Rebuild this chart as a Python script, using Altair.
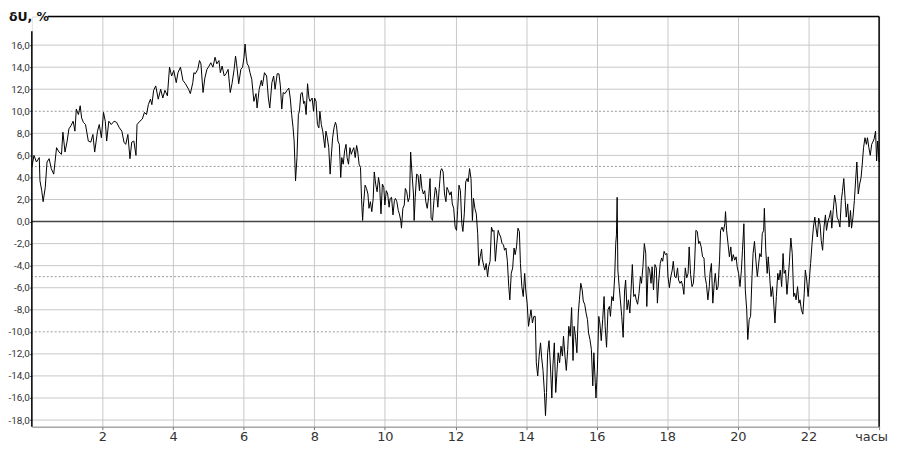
import altair as alt
import pandas as pd

# time (hours) and voltage deviation dU (%)
hours = [
    0.00, 0.06, 0.13, 0.21, 0.23, 0.28, 0.32, 0.38, 0.43, 0.49, 0.55, 0.62, 0.70, 0.77, 0.84, 0.88,
    0.94, 1.00, 1.05, 1.11, 1.17, 1.22, 1.26, 1.32, 1.37, 1.41, 1.46, 1.52, 1.60, 1.67, 1.73, 1.78,
    1.86, 1.91, 1.97, 2.03, 2.08, 2.12, 2.18, 2.25, 2.33, 2.40, 2.48, 2.55, 2.61, 2.66, 2.72, 2.78,
    2.83, 2.89, 2.95, 2.98, 3.06, 3.13, 3.19, 3.25, 3.30, 3.36, 3.40, 3.45, 3.51, 3.58, 3.65, 3.71,
    3.77, 3.84, 3.90, 3.96, 4.02, 4.09, 4.14, 4.21, 4.28, 4.35, 4.44, 4.49, 4.56,
    4.59, 4.63, 4.70, 4.75, 4.79, 4.85, 4.90, 4.96, 5.02, 5.07, 5.13, 5.19, 5.24, 5.30, 5.34, 5.39,
    5.45, 5.50, 5.56, 5.62, 5.67, 5.73, 5.77, 5.80, 5.86, 5.92, 5.97, 6.01, 6.04, 6.07, 6.10, 6.14,
    6.18, 6.23, 6.29, 6.35, 6.38, 6.44, 6.50, 6.53, 6.59, 6.65, 6.70, 6.74, 6.80, 6.85, 6.89, 6.95,
    7.00, 7.04, 7.08, 7.12, 7.17, 7.23, 7.28, 7.32, 7.36, 7.40, 7.43, 7.47, 7.51, 7.55, 7.58, 7.62,
    7.66, 7.70, 7.73, 7.77, 7.81, 7.85, 7.88, 7.94, 7.98, 8.01, 8.05, 8.09, 8.13, 8.16, 8.20, 8.24,
    8.30, 8.33, 8.37, 8.41, 8.45, 8.48, 8.52, 8.56, 8.60, 8.63, 8.67, 8.71, 8.75, 8.78, 8.82, 8.86,
    8.90, 8.93, 8.97, 9.01, 9.05, 9.08, 9.12, 9.16, 9.20, 9.23, 9.27, 9.31, 9.34,
    9.37, 9.39, 9.44, 9.48, 9.52, 9.55, 9.59, 9.63, 9.67, 9.70, 9.74, 9.78, 9.82, 9.85, 9.89, 9.93,
    9.97, 10.00, 10.04, 10.08, 10.12, 10.15, 10.19, 10.23, 10.27, 10.30, 10.34, 10.38, 10.41, 10.45,
    10.47, 10.51, 10.55, 10.58, 10.62, 10.66, 10.70, 10.73, 10.77, 10.81, 10.83, 10.86, 10.90, 10.94,
    10.98, 11.01, 11.05, 11.09, 11.13, 11.16, 11.20, 11.24, 11.28, 11.31, 11.35, 11.39, 11.43, 11.46,
    11.50, 11.54, 11.58, 11.61, 11.65, 11.69, 11.73, 11.76, 11.80, 11.84, 11.88, 11.91, 11.95, 11.99,
    12.03, 12.06, 12.10, 12.14, 12.18, 12.21, 12.25, 12.29, 12.33, 12.36, 12.40, 12.44, 12.48, 12.51,
    12.55, 12.59, 12.63, 12.66, 12.70, 12.74, 12.76, 12.80, 12.83, 12.87, 12.91, 12.94, 12.98, 13.02,
    13.06, 13.09, 13.13, 13.17, 13.21, 13.24, 13.28, 13.32, 13.36, 13.39, 13.43, 13.47, 13.51, 13.54,
    13.58, 13.62, 13.66, 13.69, 13.73, 13.77, 13.81, 13.84, 13.88, 13.92, 13.96, 13.99, 14.03, 14.07,
    14.11, 14.14, 14.18, 14.22,
    14.26, 14.29, 14.33, 14.37, 14.41, 14.44, 14.48, 14.52, 14.55, 14.58, 14.61, 14.65, 14.69, 14.73,
    14.76, 14.80, 14.84, 14.88, 14.91, 14.95, 14.99, 15.03, 15.06, 15.10, 15.14, 15.18, 15.21, 15.25,
    15.29, 15.33, 15.36, 15.40, 15.44, 15.48, 15.51, 15.55, 15.59, 15.62, 15.66, 15.70, 15.74, 15.77,
    15.81, 15.85, 15.89, 15.92, 15.96, 15.98, 16.02, 16.06, 16.09, 16.13, 16.17, 16.21, 16.24, 16.28,
    16.32, 16.36, 16.39, 16.43, 16.47, 16.51, 16.54, 16.56, 16.58, 16.60, 16.64, 16.67, 16.71, 16.75,
    16.79, 16.82, 16.86, 16.90, 16.94, 16.97, 17.01, 17.05, 17.09, 17.12, 17.16, 17.20, 17.24, 17.27,
    17.31, 17.35, 17.39, 17.42, 17.46, 17.50, 17.54, 17.57, 17.61, 17.65, 17.69, 17.72, 17.76, 17.80,
    17.84, 17.87, 17.91, 17.95, 17.99, 18.02, 18.06, 18.10, 18.14, 18.17, 18.21, 18.25, 18.29, 18.32,
    18.36, 18.40, 18.44, 18.47, 18.51, 18.55, 18.59, 18.62, 18.66, 18.70, 18.74, 18.77, 18.81, 18.85,
    18.89, 18.92, 18.96, 19.00, 19.04, 19.07, 19.11, 19.15, 19.19,
    19.21, 19.25, 19.29, 19.33, 19.36, 19.40, 19.44, 19.48, 19.51, 19.55, 19.59, 19.63, 19.65, 19.68,
    19.72, 19.76, 19.80, 19.83, 19.87, 19.91, 19.95, 19.98, 20.02, 20.06, 20.10, 20.13, 20.17, 20.21,
    20.25, 20.28, 20.32, 20.36, 20.40, 20.43, 20.47, 20.51, 20.55, 20.58, 20.62, 20.66, 20.69, 20.73,
    20.75, 20.79, 20.83, 20.86, 20.90, 20.94, 20.98, 21.01, 21.05, 21.09, 21.13, 21.16, 21.20, 21.24,
    21.28, 21.31, 21.35, 21.39, 21.43, 21.46, 21.50, 21.54, 21.58, 21.61, 21.65, 21.69, 21.73, 21.76,
    21.80, 21.84, 21.88, 21.91, 21.95, 21.99, 22.03, 22.06, 22.10, 22.14, 22.18, 22.21, 22.25, 22.29,
    22.33, 22.36, 22.40, 22.44, 22.48, 22.51, 22.55, 22.59, 22.63, 22.66, 22.70, 22.74, 22.78, 22.81,
    22.85, 22.89, 22.93, 22.96, 23.00, 23.04, 23.07, 23.11, 23.15, 23.19, 23.22, 23.26, 23.30, 23.34,
    23.37, 23.41, 23.45, 23.49, 23.52, 23.56, 23.60, 23.64, 23.67, 23.71, 23.75, 23.79, 23.82, 23.86,
    23.90, 23.93, 23.96, 24.00,
]

du = [
    4.9, 6.0, 5.4, 5.8, 3.7, 2.8, 1.8, 3.1, 5.4, 5.7, 4.8, 4.3, 6.7, 6.3, 6.1, 8.1,
    6.3, 7.3, 8.4, 8.7, 9.1, 8.2, 10.2, 9.7, 10.5, 9.4, 9.0, 8.8, 7.3, 7.2, 7.9, 6.3,
    8.2, 8.8, 7.6, 9.9, 9.1, 7.3, 9.1, 8.8, 9.1, 9.0, 8.5, 8.2, 7.2, 7.0, 7.9, 5.7,
    7.2, 7.3, 6.0, 8.8, 9.1, 9.3, 9.9, 9.7, 10.6, 11.1, 10.6, 11.9, 12.3, 11.1, 12.0, 11.2,
    11.9, 11.4, 14.0, 13.2, 13.7, 12.6, 13.5, 14.0, 12.8, 12.5, 12.0, 11.6, 12.6,
    13.5, 13.4, 13.8, 14.6, 14.3, 11.7, 13.0, 13.8, 14.1, 14.4, 14.0, 14.9, 14.3, 14.6, 13.5, 14.1,
    13.2, 13.4, 13.8, 11.7, 12.5, 13.8, 15.0, 14.3, 12.5, 13.8, 14.0, 14.9, 16.1, 15.0, 14.3, 14.1,
    13.5, 12.9, 10.9, 11.6, 10.3, 12.0, 12.8, 12.3, 13.5, 13.2, 11.2, 10.3, 12.6, 13.2, 12.0, 13.4,
    13.4, 12.3, 10.2, 11.7, 11.6, 11.9, 12.1, 11.2, 9.7, 8.5, 7.3, 3.7, 5.8, 9.7, 10.0, 11.6,
    11.7, 10.7, 10.9, 9.7, 12.5, 11.2, 10.9, 11.2, 10.0, 11.2, 10.9, 8.8, 8.5, 10.0, 8.8, 8.2,
    6.7, 8.2, 7.6, 6.7, 4.3, 5.8, 7.6, 8.5, 9.0, 8.7, 7.3, 7.0, 4.0, 5.8, 5.2, 6.4,
    7.0, 5.8, 5.2, 6.7, 6.1, 6.4, 6.7, 5.8, 6.9, 6.4, 5.2, 4.9, 2.0,
    0.1, 1.3, 3.3, 3.0, 2.5, 1.2, 1.8, 0.9, 2.1, 4.5, 3.4, 2.7, 4.0, 3.4, 0.7, 3.4,
    3.1, 1.5, 2.8, 2.5, 1.3, 2.1, 2.2, 0.6, 1.9, 2.1, 1.8, 1.0, 0.7, 0.1,
    -0.6, 1.2, 1.5, 3.0, 2.7, 1.8, 2.2, 6.3, 4.3, 2.5, 0.1, 2.2, 4.3, 4.2,
    2.8, 4.3, 3.0, 2.5, 2.8, 1.8, 1.2, 2.2, 3.9, 0.3, 0.1, 1.9, 3.1, 2.8,
    1.3, 3.0, 4.6, 4.8, 4.5, 2.5, 1.8, 3.1, 2.8, 2.4, 2.7, 1.6, 1.2, -0.5,
    -0.8, 1.0, 3.3, 2.8, -0.2, -0.9, 0.7, 3.6, 3.9, 3.6, 4.8, 3.9, 0.1, 2.1,
    1.2, 0.7, -1.1, -4.0, -3.2, -2.5, -3.4, -4.0, -4.4, -3.8, -5.0, -4.1, -3.6, -0.5,
    -0.9, -0.8, -3.6, -2.0, -0.8, -1.1, -1.4, -2.0, -2.1, -2.6, -2.4, -3.6, -5.9, -7.1,
    -4.7, -4.2, -2.4, -3.0, -2.3, -0.6, -0.9, -3.8, -5.9, -6.8, -4.7, -6.2, -7.4, -9.5,
    -8.6, -8.0, -9.2, -8.6,
    -8.6, -12.8, -14.0, -12.2, -11.0, -12.3, -13.5, -15.5, -17.6, -15.5, -11.9, -10.8, -13.1, -16.0,
    -13.1, -11.0, -15.5, -13.4, -11.9, -12.8, -11.3, -12.2, -10.4, -12.1, -13.5, -11.6, -9.5, -10.4,
    -7.8, -12.6, -9.5, -10.4, -11.9, -8.3, -7.1, -5.6, -6.2, -7.2, -7.5, -8.3, -8.9, -10.1,
    -10.7, -11.6, -14.9, -11.9, -14.6, -16.0, -13.4, -8.6, -9.2, -10.8, -8.9, -6.8, -9.5, -11.4,
    -8.0, -7.7, -8.6, -6.8, -7.2, -5.0, -2.0, -1.2, 2.2, -4.4, -6.0, -7.1, -8.6, -10.5,
    -6.3, -5.3, -8.0, -7.1, -8.3, -6.5, -3.9, -6.8, -6.6, -7.1, -7.5, -6.5, -5.0, -5.6,
    -4.1, -2.0, -2.9, -7.7, -4.1, -4.4, -5.6, -4.1, -6.2, -3.9, -4.2, -7.4, -5.3, -3.8,
    -3.3, -3.6, -2.7, -3.0, -2.9, -5.0, -6.0, -5.0, -4.4, -3.6, -5.0, -5.1, -4.2, -5.3,
    -5.6, -5.4, -5.9, -6.6, -4.2, -5.1, -4.7, -2.3, -4.8, -5.9, -5.6, -4.1, -0.8, -0.9,
    -2.0, -1.8, -2.3, -3.2, -3.3, -5.0, -5.7, -7.1, -5.9,
    -4.7, -3.8, -7.4, -5.6, -4.7, -6.2, -5.9, -3.5, -0.8, -0.5, -0.9, -0.2, 0.9, -0.8,
    -2.0, -3.2, -2.3, -3.6, -3.0, -3.5, -3.2, -4.1, -4.7, -5.9, -4.4, -2.6, -0.2, -6.2,
    -8.0, -10.7, -8.9, -8.6, -5.0, -2.9, -1.8, -3.5, -5.0, -4.1, -2.9, -3.2, -1.1, -0.8,
    1.2, -2.6, -4.7, -3.2, -5.0, -6.8, -5.9, -7.1, -9.2, -6.8, -4.7, -5.3, -4.4, -5.9,
    -2.9, -4.7, -4.4, -6.6, -5.0, -3.6, -1.5, -2.9, -6.8, -6.5, -7.1, -5.9, -7.4, -7.1,
    -8.0, -8.4, -6.5, -4.4, -5.3, -6.8, -5.0, -3.8, -2.0, -0.5, 0.4, -0.5, -1.4, 0.3,
    -0.3, -1.7, -2.6, -0.5, 0.6, -0.8, 0.0, 0.4, 1.0, -0.6, 1.0, 2.4, 1.6, 0.4,
    0.1, -0.5, 1.9, 2.7, 3.9, 1.9, 0.4, 1.6, -0.5, 1.0, -0.6, 0.4, 1.9, 4.0,
    5.4, 2.5, 3.4, 4.0, 5.1, 6.7, 7.6, 7.0, 7.6, 6.7, 6.0, 7.0, 7.2, 7.5,
    8.2, 5.5, 7.3, 5.4,
]

y_ticks = [-18, -16, -14, -12, -10, -8, -6, -4, -2, 0, 2, 4, 6, 8, 10, 12, 14, 16]
solid_grid = [-18, -16, -14, -12, -8, -6, -4, -2, 2, 4, 6, 8, 12, 14, 16]
dashed_grid = [-10, -5, 5, 10]
zero_line = [0]
x_ticks = [2, 4, 6, 8, 10, 12, 14, 16, 18, 20, 22, 24]
title_text = ["δU, %"]

n = min(len(hours), len(du))
df = pd.DataFrame({"h": hours[:n], "v": du[:n]})

FONT = "DejaVu Sans"
YFONT = "Roboto"
W, H = 853, 413

y_scale = alt.Scale(domain=[-18.6, 18.6], nice=False, zero=False)
x_scale = alt.Scale(domain=[0, 24], nice=False, zero=False)

y_axis = alt.Axis(
    values=y_ticks, title=None, grid=False, domain=False,
    labelExpr="(datum.value < 0 ? '-' : '') + replace(format(abs(datum.value), '.1f'), '.', ',')",
    labelFont=YFONT, labelFontSize=10, labelColor="#333",
    tickSize=2.5, tickColor="#555", labelPadding=0,
)
x_axis = alt.Axis(
    values=x_ticks, title=None, grid=True, gridColor="#c8c8c8", gridWidth=1,
    labelExpr="datum.value == 24 ? 'часы' : datum.label",
    labelFlush=False,
    labelOffset={"condition": {"test": "datum.value == 24", "value": -8}, "value": 0},
    labelFont=FONT, labelFontSize=13, labelColor="#333", labelPadding=1,
    tickSize=3, tickColor="#777", domainColor="#888", domainWidth=1,
)

Y = alt.Y("v:Q", scale=y_scale, axis=y_axis)

hgrid = alt.Chart(pd.DataFrame({"v": solid_grid})).mark_rule(color="#c8c8c8", strokeWidth=1).encode(y=Y)
dashed = alt.Chart(pd.DataFrame({"v": dashed_grid})).mark_rule(
    color="#999", strokeWidth=1, strokeDash=[2, 2]).encode(y=Y)
zero = alt.Chart(pd.DataFrame({"v": zero_line})).mark_rule(color="#444", strokeWidth=1.5).encode(y=Y)

line = alt.Chart(df).mark_line(color="black", strokeWidth=1, interpolate="linear").encode(
    x=alt.X("h:Q", scale=x_scale, axis=x_axis),
    y=Y,
)

one = pd.DataFrame({"t": title_text})
top_rule = alt.Chart(one).mark_rule(color="black", strokeWidth=1.5).encode(
    x=alt.value(16), x2=alt.value(W), y=alt.value(0))
left_rule = alt.Chart(one).mark_rule(color="black", strokeWidth=1.5).encode(
    x=alt.value(0), y=alt.value(15), y2=alt.value(H))
right_rule = alt.Chart(one).mark_rule(color="black", strokeWidth=1.5).encode(
    x=alt.value(W), y=alt.value(0), y2=alt.value(H))
title = alt.Chart(one).mark_text(
    font=FONT, fontSize=12.5, fontWeight="bold", color="#111", align="left", baseline="middle"
).encode(x=alt.value(-23), y=alt.value(0.5), text="t:N")

chart = alt.layer(hgrid, dashed, zero, line, top_rule, left_rule, right_rule, title).properties(
    width=W, height=H,
    autosize=alt.AutoSizeParams(type="none"),
    padding={"left": 24, "top": 7, "right": 14, "bottom": 22},
).configure_view(stroke=None).configure(background="white")

chart.save("out.html", embed_options={"renderer": "svg", "actions": False})
